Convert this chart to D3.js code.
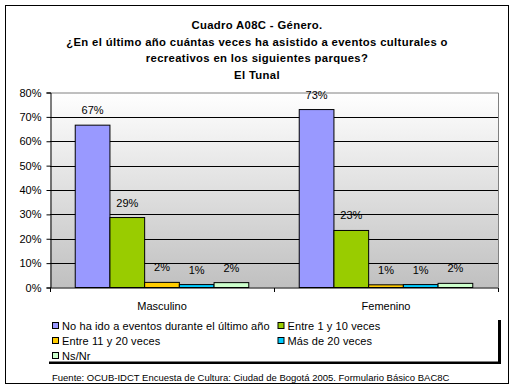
<!DOCTYPE html>
<html><head><meta charset="utf-8">
<script src="https://cdn.jsdelivr.net/npm/d3@7"></script>
<style>body{margin:0;background:#fff}svg{display:block;font-family:"Liberation Sans",Arial,sans-serif}</style>
</head><body><svg id="c" width="515" height="391"></svg>
<script>
const titleLines = ["Cuadro A08C - Género.", "¿En el último año cuántas veces ha asistido a eventos culturales o", "recreativos en los siguientes parques?", "El Tunal"];
const categories = ["Masculino", "Femenino"];
const seriesNames = ["No ha ido a eventos durante el último año", "Entre 1 y 10 veces", "Entre 11 y 20 veces", "Más de 20 veces", "Ns/Nr"];
const seriesColors = ["#9999FF", "#99CC00", "#FFCC00", "#00CCFF", "#CCFFCC"];
const valuesMasculino = [66.6, 28.7, 2.1, 1.2, 2.0];
const valuesFemenino = [73.0, 23.4, 1.1, 1.2, 1.7];
const yTicks = [0, 10, 20, 30, 40, 50, 60, 70, 80];
const footer = "Fuente: OCUB-IDCT Encuesta de Cultura: Ciudad de Bogotá 2005. Formulario Básico BAC8C";

const values = [valuesMasculino, valuesFemenino];
const svg = d3.select("#c");
svg.append("rect").attr("x", 5.5).attr("y", 5.5).attr("width", 503).attr("height", 378).attr("fill", "#fff").attr("stroke", "#000");

const tt = svg.append("text").attr("text-anchor", "middle").attr("font-size", 11.3).attr("font-weight", "bold").attr("letter-spacing", 0.35);
titleLines.forEach((t, i) => tt.append("tspan").attr("x", 257).attr("y", 29 + i * 16.7).text(t));

const L = 50, R = 498, T = 92.5, B = 287.5;
const y = d3.scaleLinear().domain([0, 80]).range([B, T]);
const x0 = d3.scaleBand().domain(categories).range([L, R]);
const x1 = d3.scaleBand().domain(d3.range(seriesNames.length)).range([0, x0.bandwidth()]).paddingInner(0).paddingOuter(0.727);

const defs = svg.append("defs");
const g = defs.append("linearGradient").attr("id", "bg").attr("x1", 0).attr("y1", 0).attr("x2", 0).attr("y2", 1);
g.append("stop").attr("offset", 0).attr("stop-color", "#ffffff");
g.append("stop").attr("offset", 1).attr("stop-color", "#c0c0c0");
svg.append("rect").attr("x", L).attr("y", T).attr("width", R - L).attr("height", B - T).attr("fill", "url(#bg)");

svg.append("g").selectAll("line").data(yTicks.filter(d => d > 0 && d < 80)).join("line")
  .attr("x1", L).attr("x2", R).attr("y1", d => Math.round(y(d)) + 0.5).attr("y2", d => Math.round(y(d)) + 0.5)
  .attr("stroke", "#000");
svg.append("path").attr("d", `M${L},${T + 0.5}H${R + 0.5}V${B}`).attr("fill", "none").attr("stroke", "#808080");

const groups = svg.append("g").selectAll("g").data(categories).join("g")
  .attr("transform", d => `translate(${x0(d)},0)`);
groups.selectAll("rect").data((d, i) => values[i].map((v, j) => ({v, j}))).join("rect")
  .attr("x", d => x1(d.j)).attr("width", x1.bandwidth())
  .attr("y", d => y(d.v)).attr("height", d => B - y(d.v))
  .attr("fill", d => seriesColors[d.j]).attr("stroke", "#000").attr("stroke-width", 1);
groups.selectAll("text").data((d, i) => values[i].map((v, j) => ({v, j}))).join("text")
  .attr("x", d => x1(d.j) + x1.bandwidth() / 2).attr("y", d => y(d.v) - 11)
  .attr("text-anchor", "middle").attr("font-size", 11).text(d => Math.round(d.v) + "%");

const ya = svg.append("g").attr("transform", `translate(${L + 0.5},0)`)
  .call(d3.axisLeft(y).tickValues(yTicks).tickSize(4).tickPadding(5).tickFormat(d => d + "%"));
ya.select(".domain").attr("stroke", "#000");
ya.selectAll("text").attr("font-size", 11).attr("font-family", "Liberation Sans, Arial, sans-serif").attr("fill", "#000");
ya.selectAll(".tick line").attr("stroke", "#000");

const xa = svg.append("g").attr("transform", `translate(0,${B + 0.5})`)
  .call(d3.axisBottom(x0).tickSize(0).tickPadding(14));
xa.select(".domain").attr("d", `M${L},0H${R + 0.5}`).attr("stroke", "#000");
xa.selectAll("text").attr("font-size", 11).attr("font-family", "Liberation Sans, Arial, sans-serif").attr("fill", "#000");
xa.append("g").selectAll("line").data([L, x0(categories[1]), R]).join("line")
  .attr("x1", d => Math.round(d) + 0.5).attr("x2", d => Math.round(d) + 0.5).attr("y1", 0).attr("y2", 4).attr("stroke", "#000");

svg.append("rect").attr("x", 49).attr("y", 320).attr("width", 452).attr("height", 44).attr("fill", "#000");
svg.append("rect").attr("x", 46).attr("y", 317).attr("width", 452).attr("height", 44.5).attr("fill", "#fff");
const legPos = [[52, 326], [277.5, 326], [52, 341], [277.5, 341], [52, 356]];
const leg = svg.append("g").selectAll("g").data(seriesNames).join("g")
  .attr("transform", (d, i) => `translate(${legPos[i][0]},${legPos[i][1]})`);
leg.append("rect").attr("x", 0.5).attr("y", -3.5).attr("width", 6).attr("height", 6)
  .attr("fill", (d, i) => seriesColors[i]).attr("stroke", "#000");
leg.append("text").attr("x", 10).attr("y", 4).attr("font-size", 11).attr("letter-spacing", 0.1).text(d => d);

svg.append("text").attr("x", 52).attr("y", 380.5).attr("font-size", 9.5).text(footer);
</script></body></html>
